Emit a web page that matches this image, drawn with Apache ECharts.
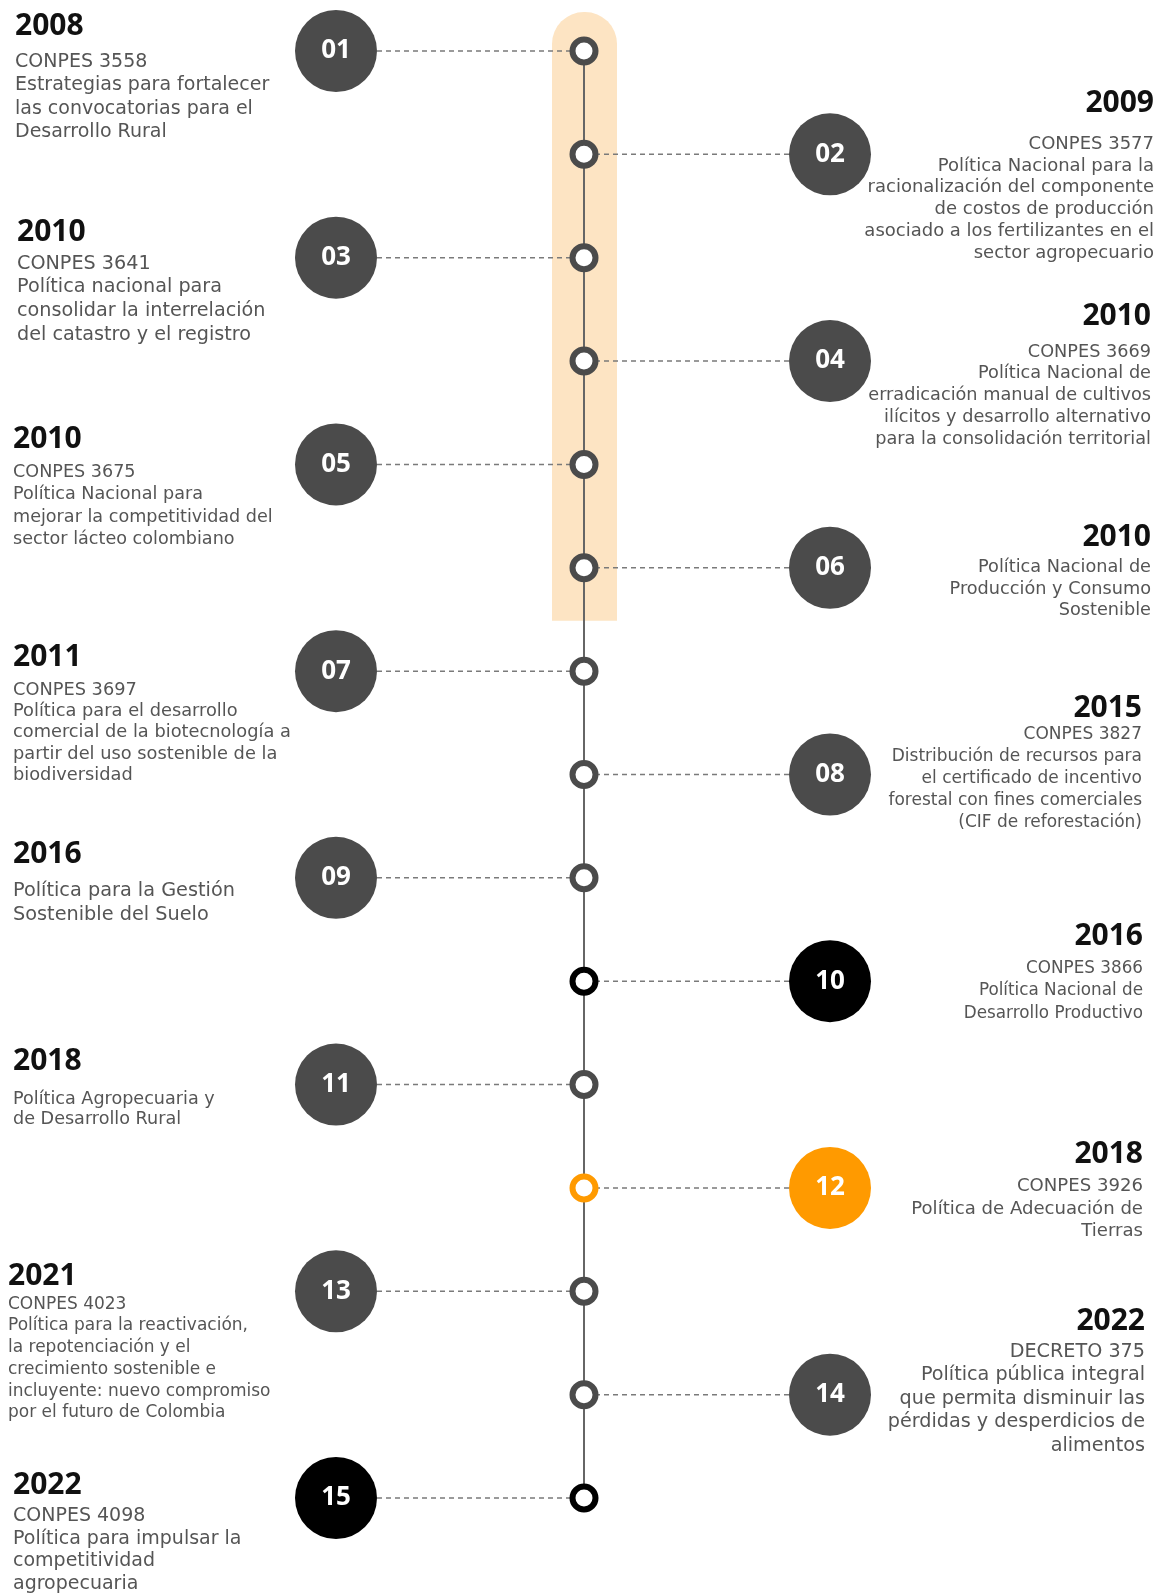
<!DOCTYPE html>
<html>
<head>
<meta charset="utf-8">
<script src="https://cdn.jsdelivr.net/npm/echarts@6/dist/echarts.min.js"></script>
<style>
  html, body { margin: 0; padding: 0; background: #fff; }
  #timeline { width: 1157px; height: 1593px; }
</style>
</head>
<body>
<div id="timeline"></div>
<script>
// 数据：每个节点的编号、年份、文件和描述
const numbers = ['01', '02', '03', '04', '05', '06', '07', '08', '09', '10', '11', '12', '13', '14', '15']
const years = ['2008', '2009', '2010', '2010', '2010', '2010', '2011', '2015', '2016', '2016', '2018', '2018', '2021', '2022', '2022']
const sides = ['left', 'right', 'left', 'right', 'left', 'right', 'left', 'right', 'left', 'right', 'left', 'right', 'left', 'right', 'left']
const documents = ['CONPES 3558', 'CONPES 3577', 'CONPES 3641', 'CONPES 3669', 'CONPES 3675', '', 'CONPES 3697', 'CONPES 3827', '', 'CONPES 3866', '', 'CONPES 3926', 'CONPES 4023', 'DECRETO 375', 'CONPES 4098']
const descriptions = [
  ['Estrategias para fortalecer', 'las convocatorias para el', 'Desarrollo Rural'],
  ['Política Nacional para la', 'racionalización del componente', 'de costos de producción', 'asociado a los fertilizantes en el', 'sector agropecuario'],
  ['Política nacional para', 'consolidar la interrelación', 'del catastro y el registro'],
  ['Política Nacional de', 'erradicación manual de cultivos', 'ilícitos y desarrollo alternativo', 'para la consolidación territorial'],
  ['Política Nacional para', 'mejorar la competitividad del', 'sector lácteo colombiano'],
  ['Política Nacional de', 'Producción y Consumo', 'Sostenible'],
  ['Política para el desarrollo', 'comercial de la biotecnología a', 'partir del uso sostenible de la', 'biodiversidad'],
  ['Distribución de recursos para', 'el certificado de incentivo', 'forestal con fines comerciales', '(CIF de reforestación)'],
  ['Política para la Gestión', 'Sostenible del Suelo'],
  ['Política Nacional de', 'Desarrollo Productivo'],
  ['Política Agropecuaria y', 'de Desarrollo Rural'],
  ['Política de Adecuación de', 'Tierras'],
  ['Política para la reactivación,', 'la repotenciación y el', 'crecimiento sostenible e', 'incluyente: nuevo compromiso', 'por el futuro de Colombia'],
  ['Política pública integral', 'que permita disminuir las', 'pérdidas y desperdicios de', 'alimentos'],
  ['Política para impulsar la', 'competitividad', 'agropecuaria']
]
const accents = ['dark', 'dark', 'dark', 'dark', 'dark', 'dark', 'dark', 'dark', 'dark', 'black', 'dark', 'orange', 'dark', 'dark', 'black']
const highlightRange = [1, 6]

// 布局与样式
const W = 1157
const H = 1593
const FIRST_Y = 51
const LAST_Y = 1498
const AXIS_X = 584
const sideX = { left: 336, right: 830 }
const palette = { dark: '#4b4b4b', black: '#000000', orange: '#ff9a00' }
const textX = [15, 1154, 17, 1151, 13, 1151, 13, 1142, 13, 1143, 13, 1143, 8, 1145, 13]
const yearDy = [-25, -51, -25, -45, -25, -30, -14, -66, -23, -45, -23, -33, -15, -73, -13]
const bodyDy = [11, -10, 6, -9, 8, 0, 19, -40, 13, -13, 15, -2, 13, -43, 18]
const lineH = [23.4, 21.7, 23.7, 21.8, 22.4, 21.3, 21.3, 22.1, 24.4, 22.9, 20.3, 22.9, 21.7, 23.6, 22.7]
const fontSizes = [19, 18, 19.2, 17.7, 17.6, 17.7, 17.8, 17, 19.3, 16.8, 17.6, 18.1, 17, 19.2, 19]
const BODY_FONT = '"DejaVu Sans", sans-serif'
const HEAD_FONT = '"Open Sans", "DejaVu Sans", sans-serif'

const step = (LAST_Y - FIRST_Y) / (numbers.length - 1)
const yMin = 1 - FIRST_Y / step
const yMax = numbers.length + (H - LAST_Y) / step

const chart = echarts.init(document.getElementById('timeline'))

const option = {
  animation: false,
  backgroundColor: '#ffffff',
  grid: { left: 0, right: 0, top: 0, bottom: 0 },
  xAxis: { type: 'value', min: 0, max: W, show: false },
  yAxis: { type: 'value', min: yMin, max: yMax, inverse: true, show: false },
  series: [
    {
      // 高亮区域
      type: 'custom',
      z: 0,
      silent: true,
      data: [[AXIS_X, highlightRange[0], highlightRange[1]]],
      encode: { x: 0, y: 1 },
      renderItem: (params, api) => {
        const top = api.coord([AXIS_X, api.value(1)])
        const bottom = api.coord([AXIS_X, api.value(2)])
        return {
          type: 'rect',
          shape: { x: top[0] - 32, y: top[1] - 39, width: 65, height: bottom[1] - top[1] + 92, r: [32, 32, 0, 0] },
          style: { fill: '#fde4c3' }
        }
      }
    },
    {
      // 主轴线
      type: 'line',
      z: 1,
      silent: true,
      symbol: 'none',
      data: numbers.map((n, i) => [AXIS_X, i + 1]),
      lineStyle: { color: '#666666', width: 2 }
    },
    {
      // 虚线连接
      type: 'custom',
      z: 2,
      silent: true,
      data: numbers.map((n, i) => [sideX[sides[i]], i + 1]),
      encode: { x: 0, y: 1 },
      renderItem: (params, api) => {
        const i = params.dataIndex
        const c = api.coord([api.value(0), api.value(1)])
        const a = api.coord([AXIS_X, api.value(1)])
        const dir = sides[i] === 'left' ? 1 : -1
        return {
          type: 'line',
          shape: { x1: c[0] + dir * 41, y1: c[1], x2: a[0] - dir * 14, y2: a[1] },
          style: { stroke: '#7a7a7a', lineWidth: 1.5, lineDash: [5, 4] }
        }
      }
    },
    {
      // 编号圆
      type: 'scatter',
      z: 3,
      silent: true,
      symbol: 'circle',
      symbolSize: 82,
      data: numbers.map((n, i) => ({
        value: [sideX[sides[i]], i + 1],
        itemStyle: { color: palette[accents[i]], opacity: 1 }
      })),
      label: {
        show: true,
        position: 'inside',
        formatter: p => numbers[p.dataIndex],
        color: '#ffffff',
        fontSize: 26,
        fontWeight: 'bold',
        fontFamily: HEAD_FONT
      }
    },
    {
      // 轴上的环
      type: 'scatter',
      z: 4,
      silent: true,
      symbol: 'circle',
      symbolSize: 23,
      data: numbers.map((n, i) => ({
        value: [AXIS_X, i + 1],
        itemStyle: { color: '#ffffff', borderColor: palette[accents[i]], borderWidth: 6, opacity: 1 }
      }))
    },
    {
      // 文字
      type: 'custom',
      z: 5,
      silent: true,
      data: numbers.map((n, i) => [textX[i], i + 1]),
      encode: { x: 0, y: 1 },
      renderItem: (params, api) => {
        const i = params.dataIndex
        const p = api.coord([api.value(0), api.value(1)])
        const align = sides[i] === 'left' ? 'left' : 'right'
        const lines = (documents[i] ? [documents[i]] : []).concat(descriptions[i])
        const children = [{
          type: 'text',
          x: p[0],
          y: p[1] + yearDy[i],
          style: { text: years[i], fill: '#111111', font: 'bold 30px ' + HEAD_FONT, align: align, verticalAlign: 'middle' }
        }]
        lines.forEach((t, k) => {
          children.push({
            type: 'text',
            x: p[0],
            y: p[1] + bodyDy[i] + k * lineH[i],
            style: { text: t, fill: '#555555', font: fontSizes[i] + 'px ' + BODY_FONT, align: align, verticalAlign: 'middle' }
          })
        })
        return { type: 'group', children: children }
      }
    }
  ]
}

chart.setOption(option)
window.addEventListener('resize', () => chart.resize())
</script>
</body>
</html>
